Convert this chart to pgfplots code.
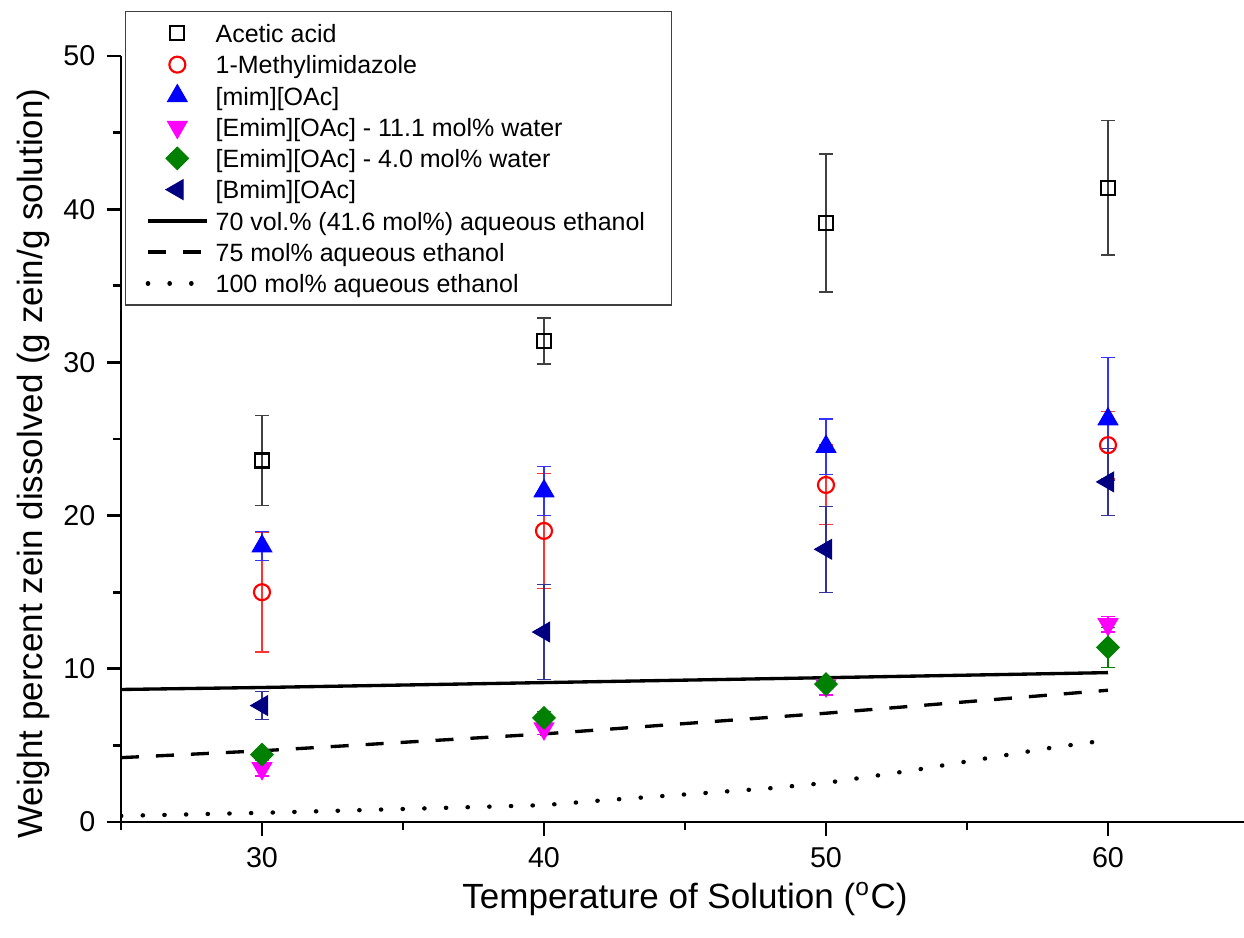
\documentclass[border=0pt]{standalone}
\usepackage{fontspec}
\setmainfont{Liberation Sans}
\usepackage{pgfplots}
\pgfplotsset{compat=1.18}
\definecolor{navy}{RGB}{0,0,128}
\definecolor{dgreen}{RGB}{0,128,0}
\definecolor{mag}{RGB}{255,0,255}
\definecolor{myred}{RGB}{255,0,0}
\definecolor{myblue}{RGB}{0,0,255}
\pgfplotsset{
  legimg/.style={legend image code/.code={\draw[mark repeat=2,mark phase=2,##1] plot coordinates {(0pt,0pt) (8.85pt,0pt) (17.7pt,0pt)};}},
  ebar/.style={error bars/.cd, y dir=both, y explicit,
    error bar style={#1, line width=0.4pt, solid},
    error mark options={#1, line width=0.4pt, mark size=2pt, rotate=90, solid}},
}
\begin{document}
\begin{tikzpicture}
\useasboundingbox (-36.3pt,-34.8pt) rectangle (336.9pt,246.6pt);
\begin{axis}[
  at={(0pt,0pt)}, anchor=south west,
  scale only axis, width=338.4pt, height=229.8pt,
  xmin=25, xmax=65, ymin=0, ymax=50,
  axis lines*=left,
  axis line style={line width=0.8pt, black},
  tick align=outside,
  major tick length=4.2pt, minor tick length=2.3pt,
  every tick/.style={line width=0.8pt, black},
  xtick={30,40,50,60}, minor xtick={25,35,45,55,65},
  ytick={0,10,20,30,40,50}, minor ytick={5,15,25,35,45},
  tick label style={font=\fontsize{8.6}{10}\selectfont},
  /pgf/number format/assume math mode=true,
  xlabel={Temperature of Solution (\textsuperscript{o}C)},
  ylabel={Weight percent zein dissolved (g zein/g solution)},
  xlabel style={font=\fontsize{10.5}{12.6}\selectfont, at={(axis description cs:0.5,0)}, anchor=base, yshift=-26pt},
  ylabel style={font=\fontsize{10.5}{12.6}\selectfont, at={(axis description cs:-0.0700,0.468)}, anchor=base},
  legend style={at={(axis description cs:0.00355,1.0587)}, anchor=north west,
    draw=black!75, line width=0.4pt, fill=white,
    font=\fontsize{7.5}{9}\selectfont,
    inner xsep=6pt, inner ysep=2pt, row sep=0.375pt,
    nodes={inner xsep=2pt, inner ysep=0.8pt, text height=6.5pt, text depth=0.9pt}},
  legend cell align=left,
]
% Acetic acid
\addplot[only marks, mark=square, mark size=2.1pt, mark options={black, line width=0.65pt, fill=white}, legimg, ebar=black!75]
  table[x=x, y=y, y error=e] {
x y e
30 23.6 2.95
40 31.4 1.5
50 39.1 4.5
60 41.4 4.4
};
\addlegendentry{Acetic acid}
% 1-Methylimidazole
\addplot[only marks, mark=o, mark size=2.4pt, mark options={myred, line width=0.65pt, fill=white}, legimg, ebar=myred!80]
  table[x=x, y=y, y error=e] {
x y e
30 15.0 3.9
40 19.0 3.75
50 22.0 2.6
60 24.6 2.2
};
\addlegendentry{1-Methylimidazole}
% [mim][OAc]
\addplot[only marks, mark=triangle*, mark size=3.4pt, mark options={myblue, fill=myblue, line width=0.3pt}, legimg, ebar=myblue!80]
  table[x=x, y=y, y error=e] {
x y e
30 18.0 0.95
40 21.6 1.6
50 24.5 1.8
60 26.3 4.0
};
\addlegendentry{[mim][OAc]}
% [Emim][OAc] 11.1
\addplot[only marks, mark=triangle*, mark size=3.4pt, mark options={mag, fill=mag, line width=0.3pt, rotate=180}, legimg, ebar=mag]
  table[x=x, y=y, y error=e] {
x y e
30 3.5 0.5
40 6.1 0.4
50 8.9 0.6
60 12.9 0.5
};
\addlegendentry{[Emim][OAc] - 11.1 mol\% water}
% [Emim][OAc] 4.0
\addplot[only marks, mark=square*, mark size=2.4pt, mark options={dgreen, fill=dgreen, line width=0.3pt, rotate=45}, legimg, ebar=dgreen]
  table[x=x, y=y, y error=e] {
x y e
30 4.4 0.3
40 6.8 0.4
50 9.0 0.3
60 11.4 1.3
};
\addlegendentry{[Emim][OAc] - 4.0 mol\% water}
% [Bmim][OAc]
\addplot[only marks, mark=triangle*, mark size=3.4pt, mark options={navy, fill=navy, line width=0.3pt, rotate=90}, legimg, ebar=navy!80]
  table[x=x, y=y, y error=e] {
x y e
30 7.6 0.9
40 12.4 3.1
50 17.8 2.8
60 22.2 2.2
};
\addlegendentry{[Bmim][OAc]}
% 70 vol.%
\addplot[black, line width=1pt, no marks, legimg] table[x=x, y=y] {
x y
25 8.65
30 8.78
40 9.10
50 9.42
60 9.75
};
\addlegendentry{70 vol.\% (41.6 mol\%) aqueous ethanol}
% 75 mol%
\addplot[black, line width=1pt, no marks, dash pattern=on 5.4pt off 5.1pt, legimg] table[x=x, y=y] {
x y
25 4.20
30 4.65
40 5.75
50 7.10
60 8.60
};
\addlegendentry{75 mol\% aqueous ethanol}
% 100 mol%
\addplot[black, line width=1.3pt, no marks, line cap=round, dash pattern=on 0.1pt off 6.4pt, legimg] table[x=x, y=y] {
x y
25 0.40
30 0.60
35 0.85
40 1.10
42 1.40
45 1.80
48 2.20
50 2.55
53 3.35
56 4.25
58 4.85
60 5.35
};
\addlegendentry{100 mol\% aqueous ethanol}
\end{axis}
\end{tikzpicture}
\end{document}
